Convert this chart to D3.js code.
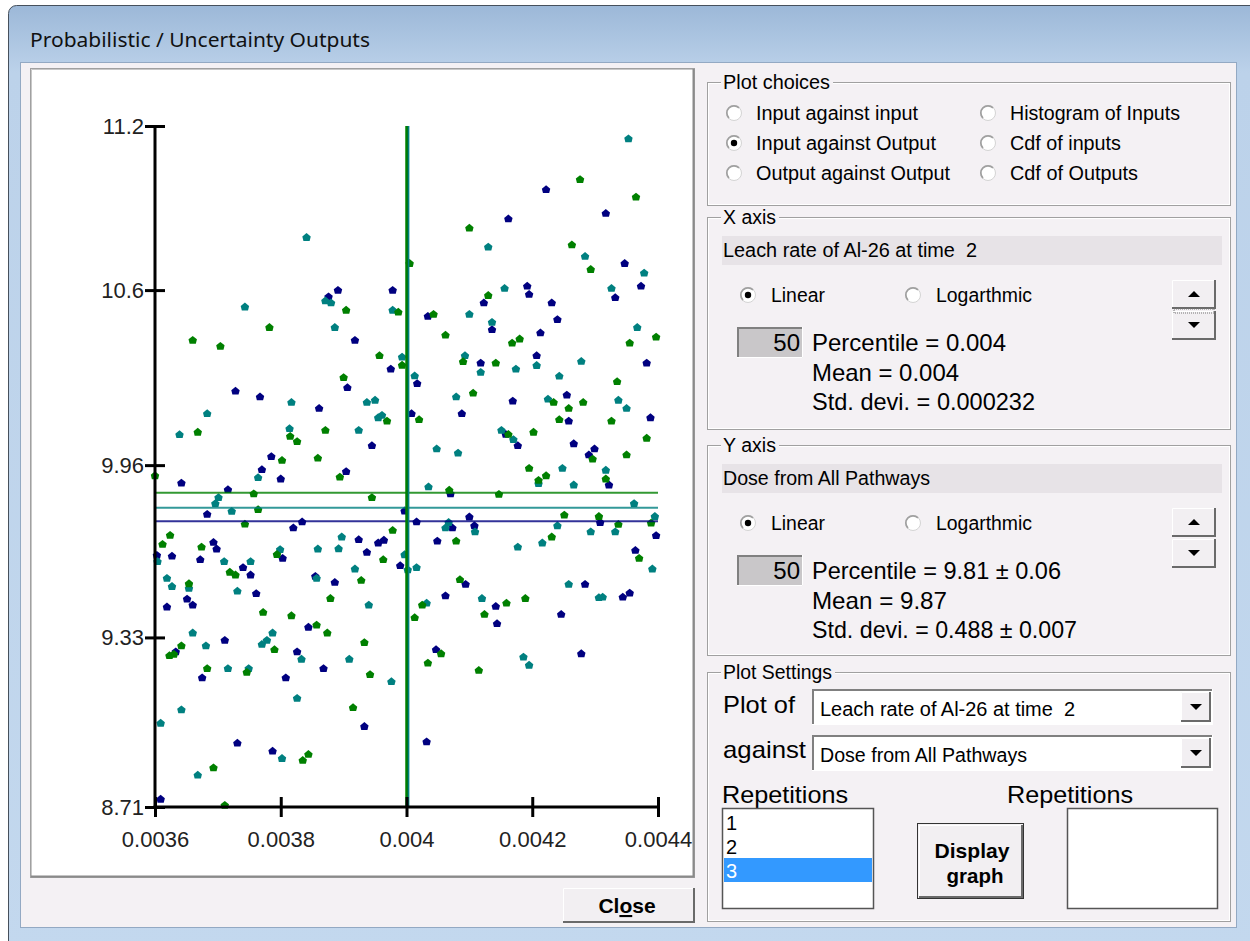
<!DOCTYPE html>
<html lang="en">
<head>
    <meta charset="UTF-8">
    <title>Probabilistic / Uncertainty Outputs</title>
    <script src="https://cdnjs.cloudflare.com/ajax/libs/d3/7.8.5/d3.min.js"></script>
    <style>
        body { margin: 0; overflow: hidden; background: #fff; }
        text { font-family: "Liberation Sans", Arial, sans-serif; white-space: pre; }
    </style>
</head>
<body>
<svg id="win" width="1250" height="941"></svg>
<script>
    // ---- chart data ----
    const xTicks = [0.0036, 0.0038, 0.004, 0.0042, 0.0044];
    const yTicks = [8.71, 9.33, 9.96, 10.6, 11.2];
    const repetitions = ["1", "2", "3"];
    const repColors = ["#000080", "#008080", "#008000"];

    const rep1X = [0.003876,0.003891,0.003918,0.003978,0.003975,0.003906,0.004017,0.003728,0.003767,0.003861,
        0.004008,0.003945,0.003785,0.003770,0.003800,0.003904,0.003642,0.003716,0.003683,0.003997,
        0.003820,0.003834,0.004016,0.003603,0.003627,0.003693,0.003698,0.003672,0.003740,0.003752,
        0.003803,0.003924,0.003937,0.003955,0.003964,0.003990,0.003855,0.003886,0.003761,0.003651,
        0.003619,0.003660,0.003711,0.003844,0.003826,0.003633,0.003675,0.003808,0.003868,0.003933,
        0.003731,0.003787,0.003609,0.004222,0.004162,0.004317,0.004347,0.004373,0.004332,0.004192,
        0.004195,0.004123,0.004231,0.004034,0.004136,0.004240,0.004213,0.004207,0.004118,0.004382,
        0.004255,0.004169,0.004088,0.004258,0.004388,0.004158,0.004177,0.004266,0.004299,0.004290,
        0.004322,0.004070,0.004100,0.004308,0.004073,0.004108,0.004397,0.004049,0.004364,0.004094,
        0.004284,0.004062,0.004344,0.004355,0.004142,0.004144,0.004246,0.004047,0.004278,0.004032];
    const rep1Y = [10.576,10.600,10.417,10.600,10.312,10.244,10.259,10.231,10.210,10.168,
        10.149,10.032,9.992,9.944,9.910,9.937,9.895,9.871,9.781,9.793,
        9.731,9.753,9.753,9.631,9.628,9.678,9.654,9.615,9.586,9.559,
        9.620,9.688,9.642,9.676,9.686,9.593,9.554,9.532,9.491,9.471,
        9.442,9.449,9.320,9.368,9.278,9.278,9.183,9.183,9.217,9.005,
        8.944,8.915,8.739,10.968,10.861,10.881,10.698,10.615,10.573,10.615,
        10.585,10.554,10.554,10.505,10.456,10.493,10.444,10.361,10.334,10.334,
        10.217,10.195,10.149,10.122,10.134,10.073,10.032,10.039,10.020,9.998,
        9.888,9.856,9.771,9.751,9.731,9.739,9.703,9.683,9.649,9.525,
        9.525,9.483,9.478,9.493,9.444,9.381,9.415,9.286,9.271,8.949];

    const rep2X = [0.003841,0.003743,0.003871,0.003880,0.003886,0.003978,0.003993,0.004013,0.003817,0.003937,
        0.003950,0.003683,0.003639,0.003814,0.003924,0.003955,0.003961,0.003764,0.003701,0.003696,
        0.003722,0.003604,0.003710,0.003752,0.003799,0.003859,0.003892,0.003897,0.003997,0.004002,
        0.004016,0.003918,0.003619,0.003627,0.003654,0.003857,0.003731,0.003940,0.003660,0.003681,
        0.003787,0.003778,0.003770,0.003833,0.003909,0.003716,0.003749,0.003976,0.003826,0.003642,
        0.003609,0.003802,0.003668,0.004353,0.004130,0.004284,0.004378,0.004326,0.004156,0.004100,
        0.004136,0.004367,0.004093,0.004118,0.004174,0.004207,0.004278,0.004079,0.004243,0.004225,
        0.004337,0.004350,0.004151,0.004170,0.004048,0.004082,0.004248,0.004317,0.004210,0.004266,
        0.004035,0.004362,0.004395,0.004067,0.004062,0.004109,0.004240,0.004293,0.004332,0.004216,
        0.004177,0.004391,0.004258,0.004120,0.004306,0.004312,0.004032,0.004186,0.004195];
    const rep2Y = [10.793,10.539,10.561,10.554,10.464,10.527,10.356,10.287,10.190,10.190,
        10.198,10.149,10.072,10.094,10.088,10.134,10.143,9.915,9.842,9.820,
        9.792,9.608,9.608,9.608,9.652,9.654,9.655,9.698,9.633,9.578,
        9.586,9.581,9.547,9.517,9.510,9.547,9.500,9.449,9.347,9.300,
        9.347,9.320,9.305,9.251,9.251,9.217,9.217,9.169,9.108,9.066,
        9.017,8.888,8.827,11.154,10.758,10.724,10.663,10.607,10.607,10.512,
        10.483,10.464,10.361,10.300,10.312,10.325,10.340,10.210,10.286,10.202,
        10.198,10.168,10.088,10.054,10.020,10.005,9.949,9.942,9.893,9.888,
        9.881,9.820,9.773,9.751,9.731,9.717,9.739,9.717,9.717,9.676,
        9.661,9.581,9.525,9.473,9.476,9.478,9.456,9.259,9.229];

    const rep3X = [0.003660,0.003704,0.003782,0.003904,0.003987,0.003957,0.004005,0.003993,0.003900,0.003668,
        0.003815,0.003826,0.003871,0.003969,0.004020,0.003802,0.003859,0.003894,0.003600,0.003757,
        0.003764,0.003945,0.003743,0.003978,0.003624,0.003612,0.003674,0.003719,0.003728,0.003794,
        0.003963,0.003654,0.003928,0.003879,0.003772,0.003817,0.003790,0.003857,0.003874,0.003933,
        0.003642,0.003623,0.003630,0.003683,0.003746,0.003942,0.003915,0.003835,0.003844,0.003693,
        0.003711,0.004013,0.004276,0.004365,0.004100,0.004263,0.004293,0.004130,0.004043,0.004062,
        0.004168,0.004180,0.004355,0.004397,0.004090,0.004142,0.004106,0.004335,0.004234,0.004281,
        0.004258,0.004243,0.004326,0.004162,0.004202,0.004382,0.004296,0.004350,0.004195,0.004222,
        0.004210,0.004317,0.004068,0.004147,0.004251,0.004306,0.004389,0.004337,0.004079,0.004231,
        0.004370,0.004085,0.004189,0.004025,0.004159,0.004124,0.004055,0.004034,0.004115];
    const rep3Y = [10.417,10.395,10.464,10.527,10.520,10.361,10.698,10.326,10.281,10.081,
        10.066,10.047,10.088,10.122,10.127,9.978,9.986,9.917,9.922,9.856,
        9.798,9.842,9.745,9.722,9.704,9.671,9.661,9.569,9.559,9.634,
        9.615,9.527,9.539,9.473,9.422,9.410,9.286,9.376,9.347,9.312,
        9.300,9.264,9.269,9.217,9.203,9.195,9.074,8.881,8.903,8.854,
        8.717,9.403,11.005,10.941,10.827,10.766,10.676,10.581,10.512,10.436,
        10.407,10.422,10.407,10.429,10.339,10.334,10.224,10.266,10.190,10.190,
        10.168,10.127,10.122,10.073,10.081,10.059,9.983,9.998,9.949,9.922,
        9.905,9.910,9.869,9.854,9.778,9.773,9.749,9.744,9.683,9.698,
        9.620,9.542,9.473,9.449,9.456,9.415,9.271,9.237,9.210];

    // 50th percentile of each repetition
    const pctX = [0.004001, 0.004003, 0.004000];
    const pctY = [9.755, 9.804, 9.859];

    const repX = [rep1X, rep2X, rep3X];
    const repY = [rep1Y, rep2Y, rep3Y];

    // ---- window ----
    const svg = d3.select("#win");
    const bg = "#f4f1f4";

    const grad = svg.append("defs").append("linearGradient")
        .attr("id", "frame").attr("x1", 0).attr("y1", 0).attr("x2", 0).attr("y2", 1);
    grad.append("stop").attr("offset", "0").attr("stop-color", "#9cb8d8");
    grad.append("stop").attr("offset", "0.07").attr("stop-color", "#bcd2ea");
    grad.append("stop").attr("offset", "1").attr("stop-color", "#c3d8ee");

    svg.append("rect").attr("x", 8.5).attr("y", 5.5).attr("width", 1260).attr("height", 960)
        .attr("rx", 8).attr("fill", "url(#frame)").attr("stroke", "#46505c");
    svg.append("rect").attr("x", 20.5).attr("y", 62.5).attr("width", 1216).attr("height", 865)
        .attr("fill", bg).attr("stroke", "#93a9c3");

    function label(x, y, str, opt = {}) {
        const t = svg.append("text").attr("x", x).attr("y", y).text(str)
            .attr("xml:space", "preserve")
            .style("font-size", (opt.size || 20) + "px")
            .style("font-weight", opt.bold ? "bold" : "normal")
            .attr("text-anchor", opt.anchor || "start")
            .attr("fill", opt.fill || "#000");
        if (opt.font) t.style("font-family", opt.font);
        if (opt.len) t.attr("textLength", opt.len).attr("lengthAdjust", "spacingAndGlyphs");
        return t;
    }

    label(30, 47, "Probabilistic / Uncertainty Outputs", {size: 19, font: "'Noto Sans', sans-serif", len: 340, fill: "#111"});

    function groupBox(x, y, w, h, title, titleW) {
        svg.append("rect").attr("x", x + 0.5).attr("y", y + 0.5).attr("width", w).attr("height", h)
            .attr("fill", "none").attr("stroke", "#a0a0a0");
        svg.append("rect").attr("x", x + 1.5).attr("y", y + 1.5).attr("width", w - 2).attr("height", h - 2)
            .attr("fill", "none").attr("stroke", "#fff");
        svg.append("rect").attr("x", x + 14).attr("y", y - 10).attr("width", titleW + 5).attr("height", 20).attr("fill", bg);
        label(x + 16, y + 7, title, {size: 20, len: titleW});
    }

    function radio(cx, cy, on) {
        svg.append("circle").attr("cx", cx).attr("cy", cy).attr("r", 7.5)
            .attr("fill", "#fff").attr("stroke", "#d4d4d4");
        svg.append("path").attr("transform", `translate(${cx},${cy})`)
            .attr("d", d3.arc()({innerRadius: 6.3, outerRadius: 8, startAngle: -Math.PI * 0.75, endAngle: Math.PI * 0.25}))
            .attr("fill", "#a0a0a0");
        if (on) svg.append("circle").attr("cx", cx).attr("cy", cy).attr("r", 3.2).attr("fill", "#000");
    }

    function raised(x, y, w, h, fill) {
        svg.append("rect").attr("x", x).attr("y", y).attr("width", w).attr("height", h).attr("fill", fill || "#f2eff2");
        svg.append("path").attr("d", `M${x + 0.5},${y + h}V${y + 0.5}H${x + w}`).attr("fill", "none").attr("stroke", "#fff");
        svg.append("path").attr("d", `M${x},${y + h - 1}H${x + w - 1}V${y}`).attr("fill", "none").attr("stroke", "#6a6a6a").attr("stroke-width", 2);
    }

    function sunken(x, y, w, h, fill) {
        svg.append("rect").attr("x", x).attr("y", y).attr("width", w).attr("height", h).attr("fill", fill);
        svg.append("path").attr("d", `M${x + 1},${y + h}V${y + 1}H${x + w}`).attr("fill", "none").attr("stroke", "#808080").attr("stroke-width", 2);
        svg.append("path").attr("d", `M${x},${y + h - 0.5}H${x + w - 0.5}V${y}`).attr("fill", "none").attr("stroke", "#fff");
    }

    function tri(cx, cy, up) {
        const s = up ? -1 : 1;
        svg.append("path").attr("d", `M${cx - 6},${cy - 3 * s}L${cx + 6},${cy - 3 * s}L${cx},${cy + 3 * s}Z`).attr("fill", "#000");
    }

    function combo(x, y, w, h, str, len) {
        sunken(x, y, w, h, "#fff");
        label(x + 8, y + 27, str, {size: 20, len: len});
        raised(x + w - 32, y + 3, 30, h - 6);
        tri(x + w - 17, y + h / 2, false);
    }

    function listBox(x, y, w, h) {
        svg.append("rect").attr("x", x + 0.5).attr("y", y + 0.5).attr("width", w).attr("height", h)
            .attr("fill", "#fff").attr("stroke", "#555").attr("stroke-width", 1.5);
    }

    // ---- plot choices ----
    groupBox(707, 82, 523, 123, "Plot choices", 107);
    const choices = [["Input against input", 162], ["Input against Output", 180], ["Output against Output", 194],
        ["Histogram of Inputs", 170], ["Cdf of inputs", 111], ["Cdf of Outputs", 128]];
    choices.forEach((c, i) => {
        const col = i < 3 ? 0 : 1, row = i % 3;
        radio(col ? 988 : 734, 113 + row * 30, i === 1);
        label(col ? 1010 : 756, 120 + row * 30, c[0], {size: 20, len: c[1]});
    });

    // ---- axis boxes ----
    function axisBox(top, title, varName, varW, lines) {
        const h = top === 217 ? 212 : 210;
        groupBox(707, top, 523, h, title, 53);
        svg.append("rect").attr("x", 722).attr("y", top + 19).attr("width", 500).attr("height", 29).attr("fill", "#e7e3e7");
        label(723, top + 40, varName, {size: 20, len: varW});
        radio(748, top + 78, true);
        label(771, top + 85, "Linear", {size: 20, len: 54});
        radio(913, top + 78, false);
        label(936, top + 85, "Logarthmic", {size: 20, len: 96});
        raised(1172, top + 63, 44, 29);
        tri(1194, top + 77, true);
        raised(1172, top + 94, 44, 29);
        tri(1194, top + 108, false);
        sunken(737, top + 110, 66, 31, "#c9c7c9");
        label(800, top + 134, "50", {size: 24, anchor: "end"});
        lines.forEach((l, i) => label(812, top + 134 + i * 29.5, l[0], {size: 24, len: l[1]}));
    }
    axisBox(217, "X axis", "Leach rate of Al-26 at time  2", 254,
        [["Percentile = 0.004", 194], ["Mean = 0.004", 147], ["Std. devi. = 0.000232", 223]]);
    // focus marks on the x spin button
    svg.append("rect").attr("x", 1174).attr("y", 309).attr("width", 40).attr("height", 4)
        .attr("fill", "none").attr("stroke", "#777").attr("stroke-dasharray", "1,1");
    axisBox(445, "Y axis", "Dose from All Pathways", 207,
        [["Percentile = 9.81 \u00b1 0.06", 249], ["Mean = 9.87", 135], ["Std. devi. = 0.488 \u00b1 0.007", 265]]);

    // ---- plot settings ----
    groupBox(707, 672, 523, 249, "Plot Settings", 109);
    label(723, 713, "Plot of", {size: 24, len: 72});
    label(723, 758, "against", {size: 24, len: 83});
    combo(812, 689, 401, 36, "Leach rate of Al-26 at time  2", 255);
    combo(812, 735, 401, 36, "Dose from All Pathways", 207);
    label(722, 803, "Repetitions", {size: 24, len: 126});
    label(1007, 803, "Repetitions", {size: 24, len: 126});
    listBox(722, 808, 151, 100);
    svg.append("rect").attr("x", 724).attr("y", 858).attr("width", 148).attr("height", 24).attr("fill", "#3399ff");
    repetitions.forEach((r, i) => label(726, 830 + i * 24, r, {size: 20, fill: i === 2 ? "#fff" : "#000"}));
    listBox(1067, 808, 150, 100);
    svg.append("rect").attr("x", 917.5).attr("y", 823.5).attr("width", 106).attr("height", 75).attr("fill", "none").attr("stroke", "#333");
    raised(919, 825, 104, 73);
    label(972, 858, "Display", {size: 21, bold: true, anchor: "middle", len: 75});
    label(975, 883, "graph", {size: 21, bold: true, anchor: "middle", len: 57});

    // ---- close button ----
    raised(563, 888, 132, 35);
    const close = label(627, 913, "", {size: 21, bold: true, anchor: "middle"});
    close.append("tspan").text("Cl");
    close.append("tspan").text("o").style("text-decoration", "underline");
    close.append("tspan").text("se");

    // ---- plot panel ----
    svg.append("rect").attr("x", 30.5).attr("y", 68.5).attr("width", 664).attr("height", 809)
        .attr("fill", "#fff").attr("stroke", "#a0a0a0");
    svg.append("path").attr("d", "M31.5,877V69.5H694").attr("fill", "none").attr("stroke", "#c8c8c8");
    svg.append("path").attr("d", "M31,876.5H693.5V69").attr("fill", "none").attr("stroke", "#8a8a8a").attr("stroke-width", 2);

    const x = d3.scaleLinear().domain([xTicks[0], xTicks[xTicks.length - 1]]).range([155, 658]);
    const y = d3.scaleLinear().domain([yTicks[0], yTicks[yTicks.length - 1]]).range([807, 126]);

    const plot = svg.append("g");

    const marker = d3.line()([[0, -4.2], [4.2, -0.8], [3.1, 3.6], [-3.1, 3.6], [-4.2, -0.8]]) + "Z";
    repX.forEach((xs, r) => {
        const pts = xs.map((v, i) => ({x: v, y: repY[r][i]}));
        plot.append("g").selectAll("path").data(pts).enter().append("path")
            .attr("d", marker)
            .attr("transform", d => `translate(${x(d.x)},${y(d.y)})`)
            .attr("fill", repColors[r]);
    });

    // percentile lines
    repColors.forEach((c, r) => {
        plot.append("line").attr("x1", x(xTicks[0])).attr("x2", x(xTicks[4]))
            .attr("y1", y(pctY[r])).attr("y2", y(pctY[r]))
            .attr("stroke", c).attr("stroke-width", 2).attr("stroke-opacity", 0.8);
    });
    [0, 1, 2].forEach(r => {
        plot.append("line").attr("x1", x(pctX[r])).attr("x2", x(pctX[r]))
            .attr("y1", y(yTicks[0])).attr("y2", y(yTicks[4]))
            .attr("stroke", repColors[r]).attr("stroke-width", r === 2 ? 2.5 : 2);
    });

    // axes
    const yAxis = d3.axisLeft(y).tickValues(yTicks).tickFormat(d => String(d)).tickSize(10);
    const gy = plot.append("g").attr("transform", `translate(${x(xTicks[0])},0)`).call(yAxis);
    gy.select(".domain").remove();
    gy.selectAll(".tick line").attr("x1", -10).attr("x2", 10).attr("stroke", "#000").attr("stroke-width", 3);
    gy.selectAll(".tick text").attr("x", -11).style("font-size", "22px").attr("fill", "#222")
        .style("font-family", "'Liberation Sans', Arial, sans-serif");

    const xAxis = d3.axisBottom(x).tickValues(xTicks).tickFormat(d => String(d)).tickSize(10);
    const gx = plot.append("g").attr("transform", `translate(0,${y(yTicks[0])})`).call(xAxis);
    gx.select(".domain").remove();
    gx.selectAll(".tick line").attr("y1", -10).attr("y2", 10).attr("stroke", "#000").attr("stroke-width", 3);
    gx.selectAll(".tick text").attr("y", 24).style("font-size", "22px").attr("fill", "#222")
        .style("font-family", "'Liberation Sans', Arial, sans-serif");

    plot.append("line").attr("x1", x(xTicks[0])).attr("x2", x(xTicks[0]))
        .attr("y1", y(yTicks[4])).attr("y2", y(yTicks[0]) + 1.5).attr("stroke", "#000").attr("stroke-width", 3);
    plot.append("line").attr("x1", x(xTicks[0]) - 1.5).attr("x2", x(xTicks[4]))
        .attr("y1", y(yTicks[0])).attr("y2", y(yTicks[0])).attr("stroke", "#000").attr("stroke-width", 3);
</script>
</body>
</html>
